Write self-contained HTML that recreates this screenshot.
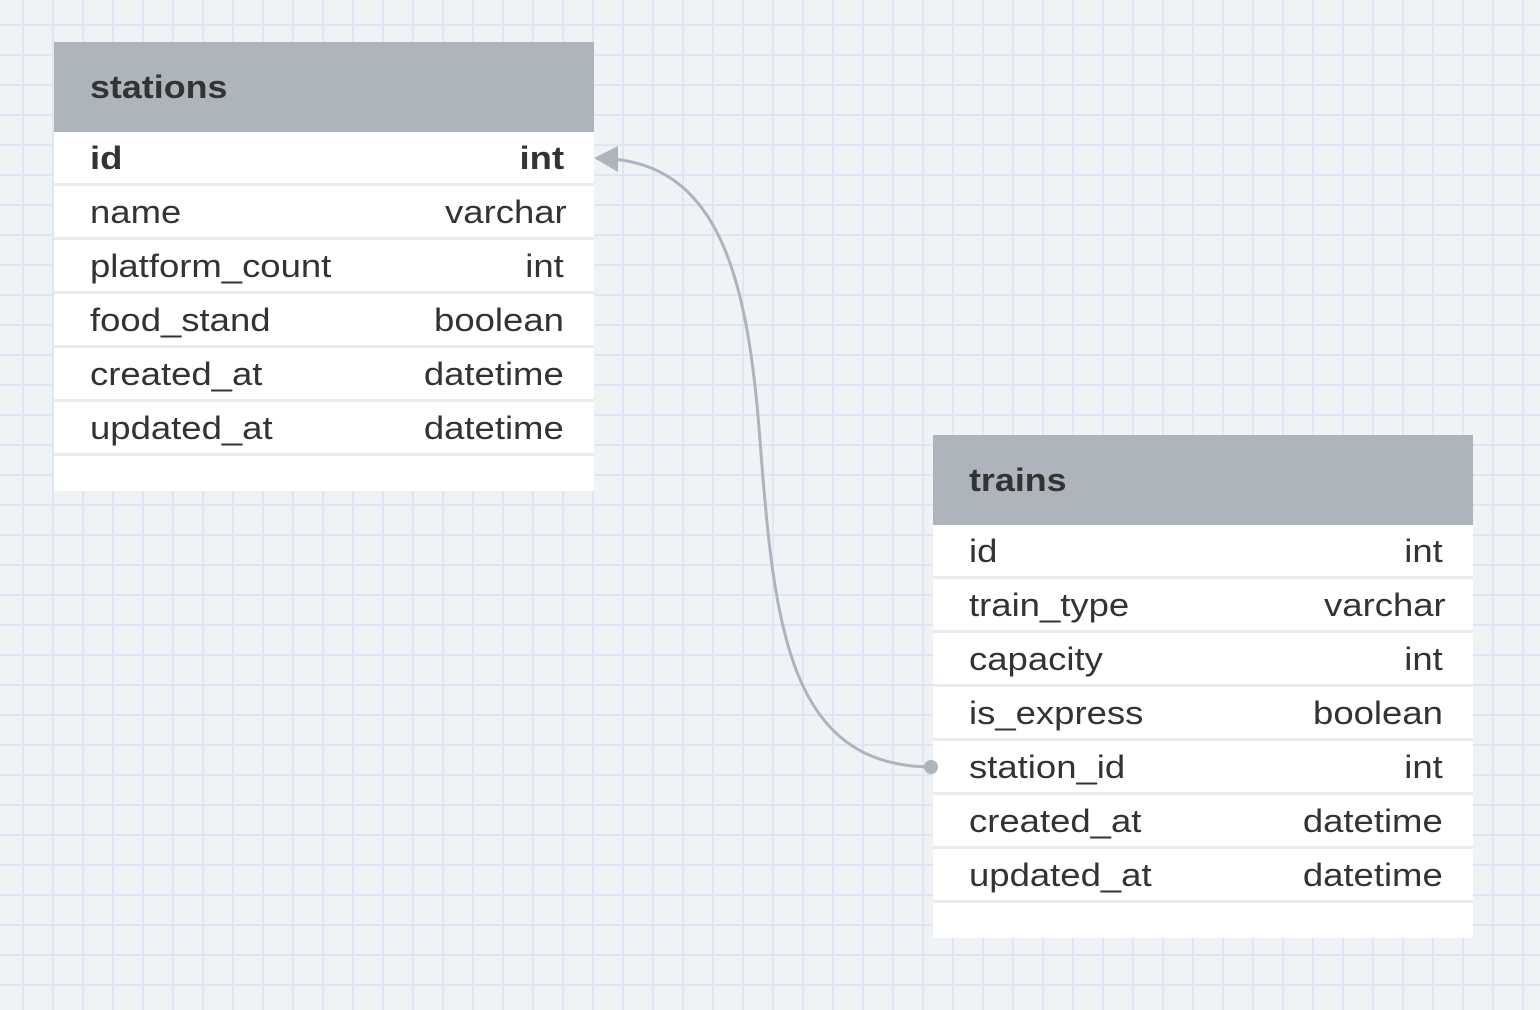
<!DOCTYPE html>
<html><head><style>
body{margin:0;width:1540px;height:1010px;overflow:hidden;background:#eff3f6;position:relative;font-family:"Liberation Sans",Arial,sans-serif;}
.grid{position:absolute;inset:0;background-image:linear-gradient(to right,#dde6f7 2px,transparent 2px),linear-gradient(to bottom,#dde6f7 2px,transparent 2px);background-size:30px 30px;background-position:22px 24px;}
.t{position:absolute;width:540px;background:#fff;}
.h{height:90px;background:#adb4bc;color:#333;font-weight:bold;font-size:32px;line-height:90px;padding-left:36px;box-sizing:border-box;}
.h span{display:inline-block;transform:scaleX(1.12);transform-origin:left center;}
.r{height:54px;border-bottom:3px solid #e9eaec;box-sizing:border-box;display:flex;justify-content:space-between;align-items:center;padding:2px 30px 0 36px;font-size:32px;color:#333;}
.r span{display:inline-block;transform:scaleX(1.14);}
.r span:first-child{transform-origin:left center;}
.r span:last-child{transform-origin:right center;}
.r.b{font-weight:bold;}
.f{height:35px;}
</style></head><body>
<div class="grid"></div>
<div class="t" style="left:54px;top:42px">
<div class="h"><span>stations</span></div>
<div class="r b"><span>id</span><span>int</span></div>
<div class="r"><span>name</span><span style="margin-right:-3px">varchar</span></div>
<div class="r"><span>platform_count</span><span>int</span></div>
<div class="r"><span>food_stand</span><span>boolean</span></div>
<div class="r"><span>created_at</span><span>datetime</span></div>
<div class="r"><span>updated_at</span><span>datetime</span></div>
<div class="f"></div>
</div>
<div class="t" style="left:933px;top:435px">
<div class="h"><span>trains</span></div>
<div class="r"><span>id</span><span>int</span></div>
<div class="r"><span>train_type</span><span style="margin-right:-3px">varchar</span></div>
<div class="r"><span>capacity</span><span>int</span></div>
<div class="r"><span>is_express</span><span>boolean</span></div>
<div class="r"><span>station_id</span><span>int</span></div>
<div class="r"><span>created_at</span><span>datetime</span></div>
<div class="r"><span>updated_at</span><span>datetime</span></div>
<div class="f"></div>
</div>
<svg width="1540" height="1010" style="position:absolute;left:0;top:0">
<path d="M612 159 C720 168 748 280 760 440 C774 630 790 765 930 767" fill="none" stroke="#adb4bc" stroke-width="3"/>
<polygon points="594,158 618,146 618,172" fill="#adb4bc"/>
<circle cx="931" cy="767" r="7" fill="#adb4bc"/>
</svg>
</body></html>
